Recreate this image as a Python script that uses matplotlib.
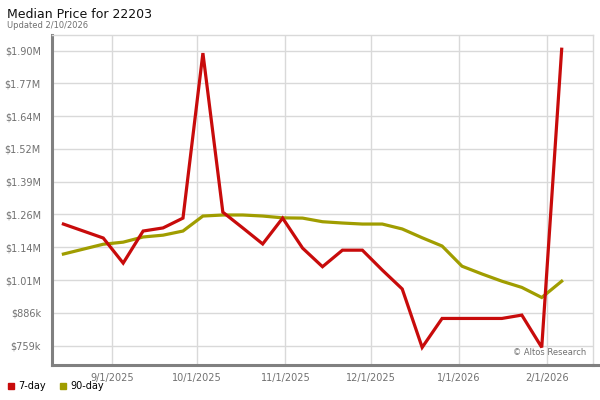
import matplotlib
matplotlib.use("Agg")
import matplotlib.pyplot as plt
import pandas as pd
from matplotlib.lines import Line2D

# Weekly dates of the series
dates = ["2025-08-15", "2025-08-22", "2025-08-29", "2025-09-05", "2025-09-12",
         "2025-09-19", "2025-09-26", "2025-10-03", "2025-10-10", "2025-10-17",
         "2025-10-24", "2025-10-31", "2025-11-07", "2025-11-14", "2025-11-21",
         "2025-11-28", "2025-12-05", "2025-12-12", "2025-12-19", "2025-12-26",
         "2026-01-02", "2026-01-09", "2026-01-16", "2026-01-23", "2026-01-30",
         "2026-02-06"]

# Median price, thousands of dollars
seven_day = [1229, 1202, 1175, 1078, 1202, 1214, 1252, 1890, 1275, 1214,
             1152, 1252, 1136, 1064, 1128, 1128, 1051, 978, 752, 864,
             864, 864, 864, 877, 752, 1905]
ninety_day = [1113, 1132, 1151, 1159, 1179, 1186, 1202, 1260, 1264, 1264,
              1260, 1253, 1252, 1238, 1233, 1229, 1229, 1210, 1176, 1144,
              1066, 1036, 1008, 984, 945, 1008]

# Axis ticks
y_ticks = [759, 885.8, 1012.6, 1139.3, 1266.1, 1392.9, 1519.7, 1646.4, 1773.2, 1900]
y_labels = ["$759k", "$886k", "$1.01M", "$1.14M", "$1.26M", "$1.39M",
            "$1.52M", "$1.64M", "$1.77M", "$1.90M"]
x_ticks = ["2025-09-01", "2025-10-01", "2025-11-01", "2025-12-01", "2026-01-01", "2026-02-01"]
x_labels = ["9/1/2025", "10/1/2025", "11/1/2025", "12/1/2025", "1/1/2026", "2/1/2026"]

red = "#c80b0b"
olive = "#a09d00"
grid_col = "#d9d9d9"
axis_col = "#808080"
text_col = "#707070"

df = pd.DataFrame({"date": pd.to_datetime(dates), "7-day": seven_day, "90-day": ninety_day})

fig = plt.figure(figsize=(6, 4), dpi=100)
ax = fig.add_axes([52 / 600, 1 - 365 / 400, (593 - 52) / 600, (365 - 35) / 400])

# Lines
ax.plot(df["date"], df["90-day"], color=olive, linewidth=2.3, solid_joinstyle="miter", zorder=3)
ax.plot(df["date"], df["7-day"], color=red, linewidth=2.3, solid_joinstyle="miter", zorder=4)

# Limits and ticks
ax.set_xlim(pd.Timestamp("2025-08-11"), pd.Timestamp("2026-02-17"))
ax.set_ylim(684, 1960)
ax.set_yticks(y_ticks)
ax.set_yticklabels(y_labels)
ax.set_xticks(pd.to_datetime(x_ticks))
ax.set_xticklabels(x_labels)
ax.tick_params(axis="both", length=0, labelsize=7, colors=text_col)
ax.tick_params(axis="y", pad=8)
ax.tick_params(axis="x", pad=6)

# Grid
ax.grid(True, color=grid_col, linewidth=1)
ax.set_axisbelow(True)

# Spines
for side in ["top", "right"]:
    ax.spines[side].set_color(grid_col)
    ax.spines[side].set_linewidth(1)
ax.spines["left"].set_color(axis_col)
ax.spines["left"].set_linewidth(2.2)
ax.spines["bottom"].set_color(axis_col)
ax.spines["bottom"].set_linewidth(2.2)
fig.add_artist(Line2D([593 / 600, 598 / 600], [1 - 365 / 400, 1 - 365 / 400],
                      color=axis_col, linewidth=2.2))

# Titles
fig.text(7 / 600, 1 - 18 / 400, "Median Price for 22203", fontsize=9, color="#111111")
fig.text(7 / 600, 1 - 28 / 400, "Updated 2/10/2026", fontsize=6, color=text_col)

# Watermark
ax.text(0.987, 0.025, "\u00a9 Altos Research", transform=ax.transAxes,
        ha="right", va="bottom", fontsize=6, color=text_col)

# Legend
handles = [Line2D([], [], marker="s", linestyle="none", color=red, markersize=4.5),
           Line2D([], [], marker="s", linestyle="none", color=olive, markersize=4.5)]
fig.legend(handles, ["7-day", "90-day"], loc="lower left", bbox_to_anchor=(0.0, 0.008),
           ncol=2, frameon=False, fontsize=7, handletextpad=0.3, columnspacing=1.2,
           handlelength=1.0, borderaxespad=0.2)

plt.savefig("out.png", dpi=100)
